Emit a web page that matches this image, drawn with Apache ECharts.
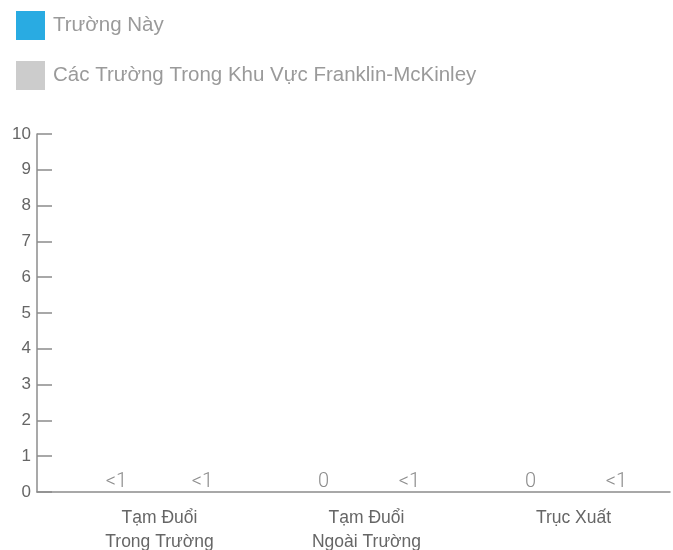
<!DOCTYPE html>
<html>
<head>
<meta charset="utf-8">
<script src="https://cdn.jsdelivr.net/npm/echarts@6/dist/echarts.min.js"></script>
<style>
html,body{margin:0;padding:0;background:#fff;}
#chart{width:673px;height:550px;}
</style>
</head>
<body>
<div id="chart"></div>
<script>
var categories = ['Tạm Đuổi\nTrong Trường', 'Tạm Đuổi\nNgoài Trường', 'Trục Xuất'];
var seriesNames = ['Trường Này', 'Các Trường Trong Khu Vực Franklin-McKinley'];
var thisSchoolValues = [0, 0, 0];
var districtValues = [0, 0, 0];
var thisSchoolLabels = ['<1', '0', '0'];
var districtLabels = ['<1', '<1', '<1'];
var yTicks = [0, 1, 2, 3, 4, 5, 6, 7, 8, 9, 10];

var FONT = '"Liberation Sans", "Helvetica Neue", Arial, sans-serif';
var chart = echarts.init(document.getElementById('chart'));

function valueLabel(arr) {
  return {
    show: true,
    position: 'top',
    distance: 0,
    color: '#8c8c8c',
    fontSize: 20,
    fontWeight: 300,
    fontFamily: '"Roboto", ' + FONT,
    formatter: function (p) { return arr[p.dataIndex]; }
  };
}

chart.setOption({
  animation: false,
  backgroundColor: '#fff',
  legend: {
    orient: 'vertical',
    left: 16,
    top: 11,
    padding: 0,
    itemWidth: 29,
    itemHeight: 29,
    itemGap: 21,
    icon: 'rect',
    textStyle: { color: '#9a9a9a', fontSize: 20.5, fontFamily: FONT, padding: [2, 0, 0, 3] },
    data: seriesNames
  },
  grid: [
    { left: 37, right: 3, top: 134, bottom: 58, outerBoundsMode: 'none', containLabel: false },
    { left: 56, right: -4, top: 134, bottom: 58, outerBoundsMode: 'none', containLabel: false }
  ],
  xAxis: [
    {
      gridIndex: 0,
      type: 'category',
      data: categories,
      axisLine: { show: true, lineStyle: { color: '#8c8c8c', width: 1.5 } },
      axisTick: { show: false },
      axisLabel: { show: false }
    },
    {
      gridIndex: 1,
      type: 'category',
      data: categories,
      axisLine: { show: false },
      axisTick: { show: false },
      axisLabel: {
        color: '#666',
        fontSize: 17.5,
        fontFamily: FONT,
        lineHeight: 24,
        margin: 14
      }
    }
  ],
  yAxis: [
    {
      gridIndex: 0,
      type: 'value',
      min: 0,
      max: 10,
      interval: 1,
      axisLine: { show: true, lineStyle: { color: '#8c8c8c', width: 1.5 } },
      axisTick: { show: true, inside: true, length: 15, lineStyle: { color: '#8c8c8c', width: 1.5 } },
      splitLine: { show: false },
      axisLabel: {
        color: '#666',
        fontSize: 17,
        fontFamily: FONT,
        margin: 6,
        formatter: function (v) { return yTicks.indexOf(v) >= 0 ? String(v) : ''; }
      }
    },
    {
      gridIndex: 1,
      type: 'value',
      min: 0,
      max: 10,
      interval: 1,
      show: false
    }
  ],
  series: [
    {
      name: seriesNames[0],
      type: 'bar',
      xAxisIndex: 1,
      yAxisIndex: 1,
      data: thisSchoolValues,
      barWidth: 40,
      barGap: '115%',
      itemStyle: { color: '#29abe2' },
      label: valueLabel(thisSchoolLabels)
    },
    {
      name: seriesNames[1],
      type: 'bar',
      xAxisIndex: 1,
      yAxisIndex: 1,
      data: districtValues,
      barWidth: 40,
      barGap: '115%',
      itemStyle: { color: '#cccccc' },
      label: valueLabel(districtLabels)
    }
  ]
});
</script>
</body>
</html>
